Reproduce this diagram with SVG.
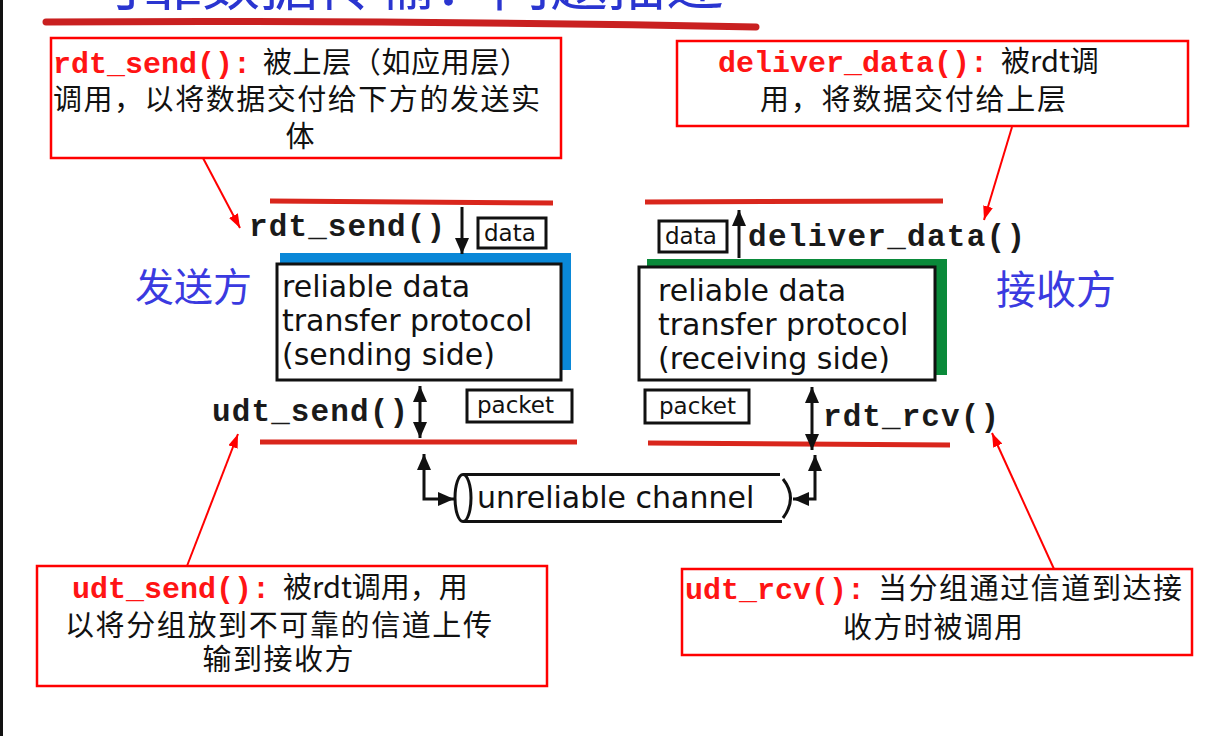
<svg xmlns="http://www.w3.org/2000/svg" width="1222" height="736" viewBox="0 0 1222 736">
<defs>
<style>
.cn{font-family:"Noto Sans CJK SC","Noto Sans",sans-serif;font-size:29px;fill:#111}
.fn{font-family:"Liberation Mono","DejaVu Sans Mono",monospace;font-weight:bold;font-size:30px;fill:#ff1414}
.mono{font-family:"Liberation Mono","DejaVu Sans Mono",monospace;font-weight:bold;font-size:31px;fill:#1a1a1a}
.proto{font-family:"DejaVu Sans",sans-serif;font-size:30px;fill:#111}
.small{font-family:"DejaVu Sans",sans-serif;font-size:23px;fill:#111}
.side{font-family:"Noto Sans CJK SC",sans-serif;font-size:39px;fill:#3a3ae0}
.note{fill:#fff;stroke:#ff0000;stroke-width:2.5}
.rl{stroke:#d9261c;stroke-width:5;fill:none}
.blk{stroke:#111;stroke-width:3;fill:none}
.lbl{fill:#fff;stroke:#111;stroke-width:3}
.call{stroke:#ff0000;stroke-width:2;fill:none}
</style>
<marker id="ab" viewBox="0 0 16 14" refX="16" refY="7" markerWidth="16" markerHeight="14" markerUnits="userSpaceOnUse" orient="auto-start-reverse"><path d="M0,0 L16,7 L0,14 z" fill="#111"/></marker>
<marker id="ar" viewBox="0 0 14 10" refX="14" refY="5" markerWidth="14" markerHeight="10" markerUnits="userSpaceOnUse" orient="auto"><path d="M0,0 L14,5 L0,10 z" fill="#ff0000"/></marker>
</defs>
<rect x="0" y="0" width="1222" height="736" fill="#fff"/>
<rect x="0" y="0" width="3" height="736" fill="#111"/>

<g id="title">
<text x="86" y="5" style="font-family:'Noto Sans CJK SC',sans-serif;font-size:58px;fill:#2a35d0">可靠数据传输：问题描述</text>
<path d="M46,22 Q400,20 756,27" stroke="#c92020" stroke-width="7" stroke-linecap="round" fill="none"/>
</g>

<g id="note-rdt-send">
<rect class="note" x="51" y="38" width="510" height="120"/>
<text class="fn" x="53" y="73">rdt_send():</text>
<text class="cn" x="263" y="73" textLength="266">被上层（如应用层）</text>
<text class="cn" x="53" y="110" textLength="487">调用，以将数据交付给下方的发送实</text>
<text class="cn" x="300" y="147" text-anchor="middle">体</text>
</g>

<g id="note-deliver-data">
<rect class="note" x="677" y="41" width="511" height="85"/>
<text class="fn" x="718" y="72">deliver_data():</text>
<text class="cn" x="1001" y="72">被rdt调</text>
<text class="cn" x="913" y="110" text-anchor="middle" textLength="306">用，将数据交付给上层</text>
</g>

<g id="note-udt-send">
<rect class="note" x="37" y="566" width="510" height="120"/>
<text class="fn" x="72" y="598">udt_send():</text>
<text class="cn" x="283" y="598">被rdt调用，用</text>
<text class="cn" x="65" y="636" textLength="427">以将分组放到不可靠的信道上传</text>
<text class="cn" x="278" y="670" text-anchor="middle" textLength="151">输到接收方</text>
</g>

<g id="note-udt-rcv">
<rect class="note" x="682" y="569" width="510" height="86"/>
<text class="fn" x="685" y="599">udt_rcv():</text>
<text class="cn" x="878" y="599" textLength="304">当分组通过信道到达接</text>
<text class="cn" x="933" y="638" text-anchor="middle" textLength="180">收方时被调用</text>
</g>

<g id="sender">
<text class="side" x="135" y="301">发送方</text>
<path class="rl" d="M270,201 L553,203"/>
<path class="rl" d="M260,442 L577,442"/>
<text class="mono" x="249" y="236" textLength="196">rdt_send()</text>
<rect class="lbl" x="478" y="218" width="68" height="30"/>
<text class="small" x="484" y="241">data</text>
<rect x="280" y="253" width="291" height="117" fill="#0a88d8"/>
<rect class="lbl" x="277" y="264" width="284" height="116"/>
<text class="proto" x="282" y="297">reliable data</text>
<text class="proto" x="282" y="331">transfer protocol</text>
<text class="proto" x="282" y="365">(sending side)</text>
<text class="mono" x="212" y="421" textLength="196">udt_send()</text>
<rect class="lbl" x="467" y="390" width="105" height="32"/>
<text class="small" x="477" y="413">packet</text>
</g>

<g id="receiver">
<text class="side" x="996" y="304" style="font-size:40px">接收方</text>
<path class="rl" d="M645,202 L943,201"/>
<path class="rl" d="M648,443 L950,445"/>
<rect class="lbl" x="659" y="221" width="68" height="31"/>
<text class="small" x="665" y="244">data</text>
<text class="mono" x="748" y="246" textLength="277">deliver_data()</text>
<rect x="647" y="259" width="300" height="116" fill="#0a8a3a"/>
<rect class="lbl" x="639" y="267" width="296" height="113"/>
<text class="proto" x="658" y="301">reliable data</text>
<text class="proto" x="658" y="335">transfer protocol</text>
<text class="proto" x="658" y="369">(receiving side)</text>
<rect class="lbl" x="645" y="390" width="104" height="33"/>
<text class="small" x="659" y="414">packet</text>
<text class="mono" x="823" y="426" textLength="176">rdt_rcv()</text>
</g>

<g id="channel">
<ellipse cx="463" cy="498" rx="8" ry="23.5" fill="#fff" stroke="#111" stroke-width="3"/>
<path class="blk" d="M463,474.5 L780,474.5 M463,521.5 L782,521.5"/>
<path class="blk" d="M783,479 Q798,498 783,518"/>
<text class="proto" x="477" y="508">unreliable channel</text>
</g>

<g id="connectors">
<path class="blk" d="M462,207 L462,254" marker-end="url(#ab)"/>
<path class="blk" d="M420,386 L420,438" marker-start="url(#ab)" marker-end="url(#ab)"/>
<path class="blk" d="M739,258 L739,210" marker-end="url(#ab)"/>
<path class="blk" d="M812,387 L812,450" marker-start="url(#ab)" marker-end="url(#ab)"/>
<path class="blk" d="M454,499 L424,499 L424,454" marker-start="url(#ab)" marker-end="url(#ab)"/>
<path class="blk" d="M793,499 L815,499 L815,455" marker-start="url(#ab)" marker-end="url(#ab)"/>
<path class="call" d="M203,158 L240,228" marker-end="url(#ar)"/>
<path class="call" d="M1012,127 L984,220" marker-end="url(#ar)"/>
<path class="call" d="M187,566 L238,434" marker-end="url(#ar)"/>
<path class="call" d="M1054,569 L992,433" marker-end="url(#ar)"/>
</g>
</svg>
